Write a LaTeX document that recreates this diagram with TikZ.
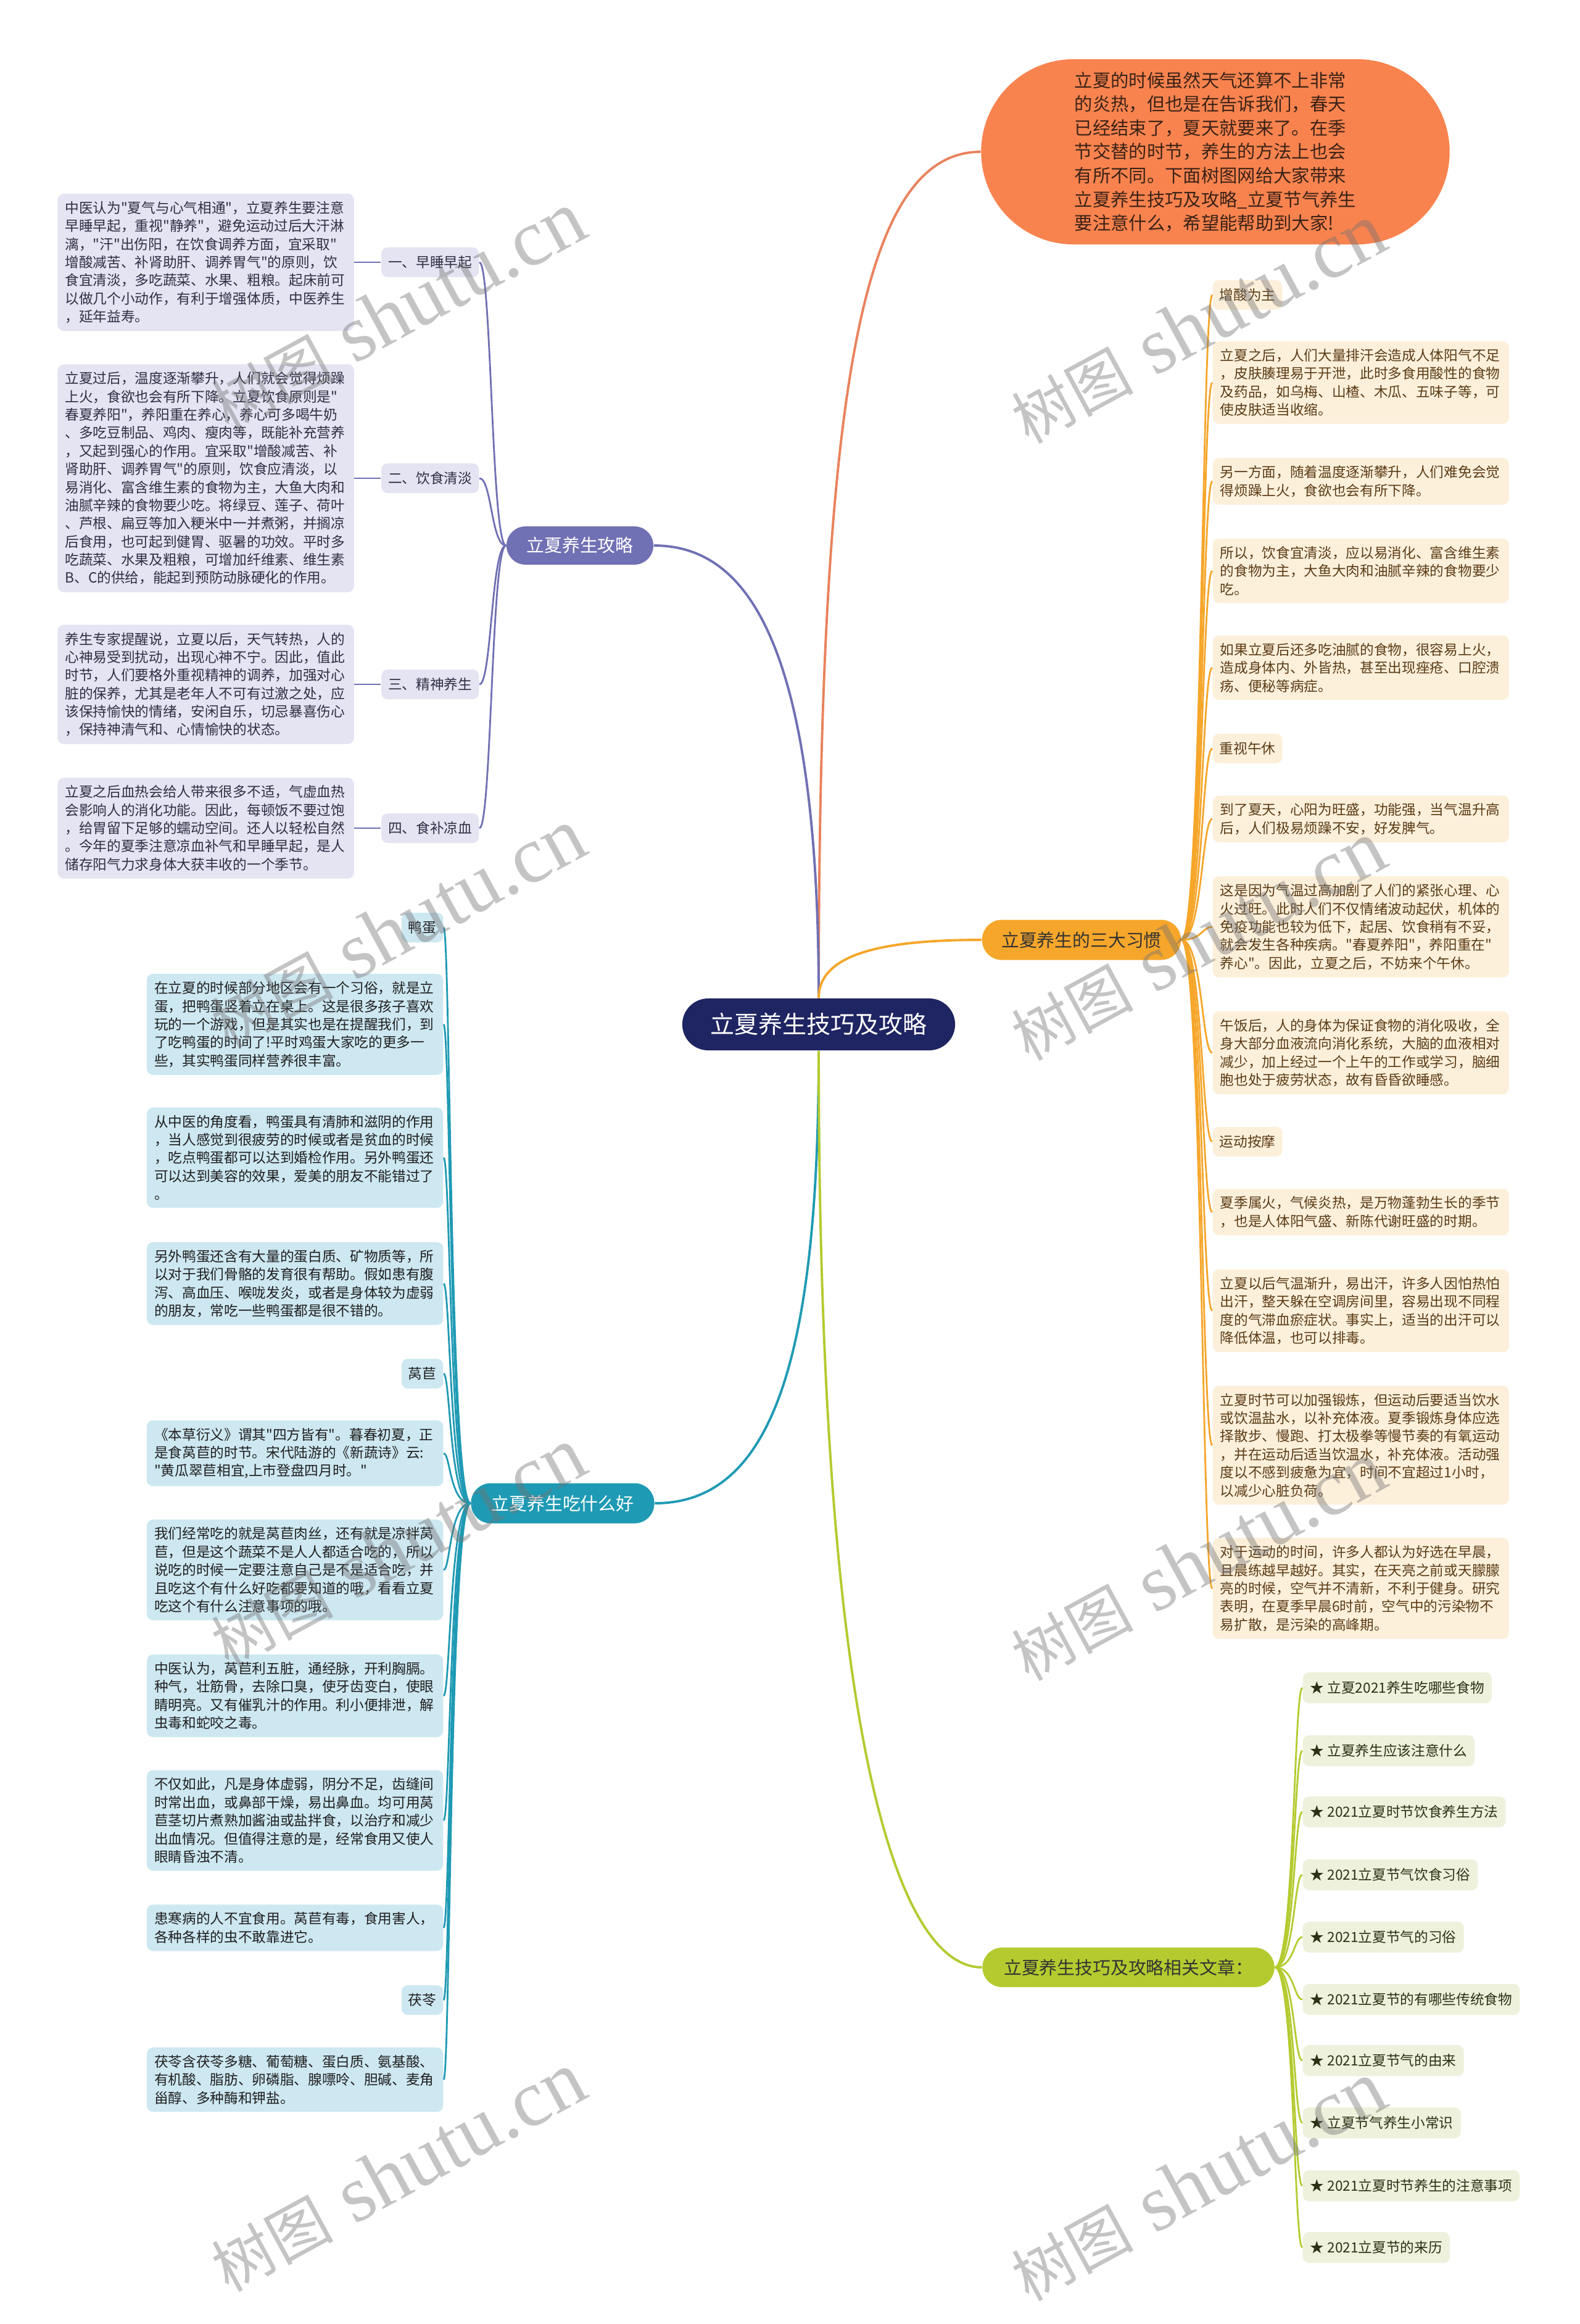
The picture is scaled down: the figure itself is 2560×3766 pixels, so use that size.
\documentclass[tikz,border=0pt]{standalone}
\usepackage{fontspec}
\setmainfont{Noto Sans CJK SC}
\newfontfamily\cjkplain{Noto Sans CJK SC}
\newfontfamily\wmlatin{Liberation Serif}
\usepackage{xcolor}
\definecolor{SHnavy}{HTML}{1F2462}
\definecolor{SHcoral}{HTML}{F8834F}
\definecolor{SHcoralline}{HTML}{E9825C}
\definecolor{SHintrotext}{HTML}{3B2216}
\definecolor{SHpurple}{HTML}{7070B4}
\definecolor{SHpurplelight}{HTML}{E4E4F2}
\definecolor{SHpurpletext}{HTML}{2F2F45}
\definecolor{SHteal}{HTML}{1F9AB4}
\definecolor{SHteallight}{HTML}{CDE8F1}
\definecolor{SHtealtext}{HTML}{1F1F1F}
\definecolor{SHorange}{HTML}{F6A62A}
\definecolor{SHorangelight}{HTML}{FDF0DB}
\definecolor{SHorangetext}{HTML}{5A3C17}
\definecolor{SHgreen}{HTML}{B5CA2F}
\definecolor{SHgreenlight}{HTML}{EEF1DC}
\definecolor{SHgreentext}{HTML}{2C3113}
\usepackage{tikz}
\usetikzlibrary{positioning}
\newcommand\leaffont{\cjkplain\fontsize{6.45}{8.35}\selectfont}

\begin{document}
\begin{tikzpicture}[x=0.01cm, y=-0.01cm,
  pill/.style={rectangle, inner sep=0pt, minimum height=0.65cm,
    rounded corners=0.32cm, font=\cjkplain\fontsize{8.2}{10}\selectfont},
  rootnode/.style={pill, fill=SHnavy, text=white, minimum width=4.42cm,
    minimum height=0.84cm, rounded corners=0.42cm,
    font=\cjkplain\fontsize{11.1}{13}\selectfont},
  intronode/.style={rectangle, fill=SHcoral, text=SHintrotext,
    minimum width=7.59cm, minimum height=3cm, rounded corners=1.5cm,
    text width=4.56cm, align=left,
    font=\cjkplain\fontsize{8.34}{10.98}\selectfont},
  stratpill/.style={pill, fill=SHpurple, text=white, minimum width=2.38cm,
    minimum height=0.62cm, rounded corners=0.31cm},
  habitpill/.style={pill, fill=SHorange, text=black!80, minimum width=3.22cm},
  eatpill/.style={pill, fill=SHteal, text=white, minimum width=2.97cm},
  relpill/.style={pill, fill=SHgreen, text=black!80, minimum width=4.73cm,
    minimum height=0.64cm},
  leaf/.style={rectangle, rounded corners=0.1cm, align=left,
    text width=4.56cm, inner xsep=0.12cm, inner ysep=3.5pt, font=\leaffont},
  tag/.style={rectangle, rounded corners=0.1cm, inner xsep=0.11cm,
    inner ysep=0pt, minimum height=0.48cm, font=\leaffont},
  stratleaf/.style={leaf, fill=SHpurplelight, text=SHpurpletext},
  strattag/.style={tag, fill=SHpurplelight, text=SHpurpletext, anchor=east},
  habitleaf/.style={leaf, fill=SHorangelight, text=SHorangetext, anchor=west},
  habittag/.style={tag, fill=SHorangelight, text=SHorangetext, anchor=west},
  eatleaf/.style={leaf, fill=SHteallight, text=SHtealtext, anchor=east},
  eattag/.style={tag, fill=SHteallight, text=SHtealtext, anchor=east},
  relitem/.style={tag, fill=SHgreenlight, text=SHgreentext, anchor=west,
    minimum height=0.5cm, inner xsep=0.12cm},
  mainedge/.style={line width=1.1pt},
  subedge/.style={line width=0.8pt},
  wmark/.style={rotate=28.5, text=black!55, text opacity=0.42, inner sep=0pt,
    font=\cjkplain\fontsize{28}{28}\selectfont}
]
\useasboundingbox (0,0) rectangle (2560,3766);
\fill[white] (0,0) rectangle (2560,3766);

% ── Root and introduction ─────────────────────────────────────
\node[rootnode] (root) at (1327,1660) {立夏养生技巧及攻略};
\node[intronode] (intro) at (1970,246) {立夏的时候虽然天气还算不上非常\\
  的炎热，但也是在告诉我们，春天\\
  已经结束了，夏天就要来了。在季\\
  节交替的时节，养生的方法上也会\\
  有所不同。下面树图网给大家带来\\
  立夏养生技巧及攻略\_立夏节气养生\\
  要注意什么，希望能帮助到大家!};

% ── Main branches ─────────────────────────────────────────────
\node[stratpill] (strat) at (940,884)   {立夏养生攻略};
\node[habitpill] (habit) at (1753,1523) {立夏养生的三大习惯};
\node[eatpill]   (eat)   at (912,2436)  {立夏养生吃什么好};
\node[relpill]   (rel)   at (1829,3188) {立夏养生技巧及攻略相关文章：};

% ── Branch: 立夏养生攻略 (left, top) ──────────────────────────
\node[strattag] (s1) at (777,425)  {一、早睡早起};
\node[strattag] (s2) at (777,775)  {二、饮食清淡};
\node[strattag] (s3) at (777,1109) {三、精神养生};
\node[strattag] (s4) at (777,1342) {四、食补凉血};

\node[stratleaf, left=0.43cm of s1] (sb1) {中医认为"夏气与心气相通"，立夏养生要注意\\
  早睡早起，重视"静养"，避免运动过后大汗淋\\
  漓，"汗"出伤阳，在饮食调养方面，宜采取"\\
  增酸减苦、补肾助肝、调养胃气"的原则，饮\\
  食宜清淡，多吃蔬菜、水果、粗粮。起床前可\\
  以做几个小动作，有利于增强体质，中医养生\\
  ，延年益寿。};
\node[stratleaf, left=0.43cm of s2] (sb2) {立夏过后，温度逐渐攀升，人们就会觉得烦躁\\
  上火，食欲也会有所下降。立夏饮食原则是"\\
  春夏养阳"，养阳重在养心，养心可多喝牛奶\\
  、多吃豆制品、鸡肉、瘦肉等，既能补充营养\\
  ，又起到强心的作用。宜采取"增酸减苦、补\\
  肾助肝、调养胃气"的原则，饮食应清淡，以\\
  易消化、富含维生素的食物为主，大鱼大肉和\\
  油腻辛辣的食物要少吃。将绿豆、莲子、荷叶\\
  、芦根、扁豆等加入粳米中一并煮粥，并搁凉\\
  后食用，也可起到健胃、驱暑的功效。平时多\\
  吃蔬菜、水果及粗粮，可增加纤维素、维生素\\
  B、C的供给，能起到预防动脉硬化的作用。};
\node[stratleaf, left=0.43cm of s3] (sb3) {养生专家提醒说，立夏以后，天气转热，人的\\
  心神易受到扰动，出现心神不宁。因此，值此\\
  时节，人们要格外重视精神的调养，加强对心\\
  脏的保养，尤其是老年人不可有过激之处，应\\
  该保持愉快的情绪，安闲自乐，切忌暴喜伤心\\
  ，保持神清气和、心情愉快的状态。};
\node[stratleaf, left=0.43cm of s4] (sb4) {立夏之后血热会给人带来很多不适，气虚血热\\
  会影响人的消化功能。因此，每顿饭不要过饱\\
  ，给胃留下足够的蠕动空间。还人以轻松自然\\
  。今年的夏季注意凉血补气和早睡早起，是人\\
  储存阳气力求身体大获丰收的一个季节。};

% ── Branch: 立夏养生的三大习惯 (right) ────────────────────────
\node[habittag]  (ha1) at (1965,478)  {增酸为主};
\node[habitleaf] (ha2) at (1965,620)  {立夏之后，人们大量排汗会造成人体阳气不足\\
  ，皮肤腠理易于开泄，此时多食用酸性的食物\\
  及药品，如乌梅、山楂、木瓜、五味子等，可\\
  使皮肤适当收缩。};
\node[habitleaf] (ha3) at (1965,780)  {另一方面，随着温度逐渐攀升，人们难免会觉\\
  得烦躁上火，食欲也会有所下降。};
\node[habitleaf] (ha4) at (1965,925)  {所以，饮食宜清淡，应以易消化、富含维生素\\
  的食物为主，大鱼大肉和油腻辛辣的食物要少\\
  吃。};
\node[habitleaf] (ha5) at (1965,1082) {如果立夏后还多吃油腻的食物，很容易上火，\\
  造成身体内、外皆热，甚至出现痤疮、口腔溃\\
  疡、便秘等病症。};
\node[habittag]  (hb1) at (1965,1213) {重视午休};
\node[habitleaf] (hb2) at (1965,1327) {到了夏天，心阳为旺盛，功能强，当气温升高\\
  后，人们极易烦躁不安，好发脾气。};
\node[habitleaf] (hb3) at (1965,1502) {这是因为气温过高加剧了人们的紧张心理、心\\
  火过旺。此时人们不仅情绪波动起伏，机体的\\
  免疫功能也较为低下，起居、饮食稍有不妥，\\
  就会发生各种疾病。"春夏养阳"，养阳重在"\\
  养心"。因此，立夏之后，不妨来个午休。};
\node[habitleaf] (hb4) at (1965,1706) {午饭后，人的身体为保证食物的消化吸收，全\\
  身大部分血液流向消化系统，大脑的血液相对\\
  减少，加上经过一个上午的工作或学习，脑细\\
  胞也处于疲劳状态，故有昏昏欲睡感。};
\node[habittag]  (hc1) at (1965,1850) {运动按摩};
\node[habitleaf] (hc2) at (1965,1964) {夏季属火，气候炎热，是万物蓬勃生长的季节\\
  ，也是人体阳气盛、新陈代谢旺盛的时期。};
\node[habitleaf] (hc3) at (1965,2124) {立夏以后气温渐升，易出汗，许多人因怕热怕\\
  出汗，整天躲在空调房间里，容易出现不同程\\
  度的气滞血瘀症状。事实上，适当的出汗可以\\
  降低体温，也可以排毒。};
\node[habitleaf] (hc4) at (1965,2342) {立夏时节可以加强锻炼，但运动后要适当饮水\\
  或饮温盐水，以补充体液。夏季锻炼身体应选\\
  择散步、慢跑、打太极拳等慢节奏的有氧运动\\
  ，并在运动后适当饮温水，补充体液。活动强\\
  度以不感到疲惫为宜，时间不宜超过1小时，\\
  以减少心脏负荷。};
\node[habitleaf] (hc5) at (1965,2574) {对于运动的时间，许多人都认为好选在早晨，\\
  且晨练越早越好。其实，在天亮之前或天朦朦\\
  亮的时候，空气并不清新，不利于健身。研究\\
  表明，在夏季早晨6时前，空气中的污染物不\\
  易扩散，是污染的高峰期。};

% ── Branch: 立夏养生吃什么好 (left, bottom) ──────────────────
\node[eattag]  (ea1) at (719,1503) {鸭蛋};
\node[eatleaf] (ea2) at (719,1660) {在立夏的时候部分地区会有一个习俗，就是立\\
  蛋，把鸭蛋竖着立在桌上。这是很多孩子喜欢\\
  玩的一个游戏，但是其实也是在提醒我们，到\\
  了吃鸭蛋的时间了!平时鸡蛋大家吃的更多一\\
  些，其实鸭蛋同样营养很丰富。};
\node[eatleaf] (ea3) at (719,1876) {从中医的角度看，鸭蛋具有清肺和滋阴的作用\\
  ，当人感觉到很疲劳的时候或者是贫血的时候\\
  ，吃点鸭蛋都可以达到婚检作用。另外鸭蛋还\\
  可以达到美容的效果，爱美的朋友不能错过了\\
  。};
\node[eatleaf] (ea4) at (719,2080) {另外鸭蛋还含有大量的蛋白质、矿物质等，所\\
  以对于我们骨骼的发育很有帮助。假如患有腹\\
  泻、高血压、喉咙发炎，或者是身体较为虚弱\\
  的朋友，常吃一些鸭蛋都是很不错的。};
\node[eattag]  (eb1) at (719,2226) {莴苣};
\node[eatleaf] (eb2) at (719,2355) {《本草衍义》谓其"四方皆有"。暮春初夏，正\\
  是食莴苣的时节。宋代陆游的《新蔬诗》云:\\
  "黄瓜翠苣相宜,上市登盘四月时。"};
\node[eatleaf] (eb3) at (719,2544) {我们经常吃的就是莴苣肉丝，还有就是凉拌莴\\
  苣，但是这个蔬菜不是人人都适合吃的，所以\\
  说吃的时候一定要注意自己是不是适合吃，并\\
  且吃这个有什么好吃都要知道的哦，看看立夏\\
  吃这个有什么注意事项的哦。};
\node[eatleaf] (eb4) at (719,2748) {中医认为，莴苣利五脏，通经脉，开利胸膈。\\
  种气，壮筋骨，去除口臭，使牙齿变白，使眼\\
  睛明亮。又有催乳汁的作用。利小便排泄，解\\
  虫毒和蛇咬之毒。};
\node[eatleaf] (eb5) at (719,2950) {不仅如此，凡是身体虚弱，阴分不足，齿缝间\\
  时常出血，或鼻部干燥，易出鼻血。均可用莴\\
  苣茎切片煮熟加酱油或盐拌食，以治疗和减少\\
  出血情况。但值得注意的是，经常食用又使人\\
  眼睛昏浊不清。};
\node[eatleaf] (eb6) at (719,3124) {患寒病的人不宜食用。莴苣有毒，食用害人，\\
  各种各样的虫不敢靠进它。};
\node[eattag]  (ec1) at (719,3241) {茯苓};
\node[eatleaf] (ec2) at (719,3370) {茯苓含茯苓多糖、葡萄糖、蛋白质、氨基酸、\\
  有机酸、脂肪、卵磷脂、腺嘌呤、胆碱、麦角\\
  甾醇、多种酶和钾盐。};

% ── Branch: 相关文章 (right, bottom) ─────────────────────────
\node[relitem] (r1)  at (2111,2735) {★ 立夏2021养生吃哪些食物};
\node[relitem] (r2)  at (2111,2837) {★ 立夏养生应该注意什么};
\node[relitem] (r3)  at (2111,2936) {★ 2021立夏时节饮食养生方法};
\node[relitem] (r4)  at (2111,3038) {★ 2021立夏节气饮食习俗};
\node[relitem] (r5)  at (2111,3139) {★ 2021立夏节气的习俗};
\node[relitem] (r6)  at (2111,3240) {★ 2021立夏节的有哪些传统食物};
\node[relitem] (r7)  at (2111,3339) {★ 2021立夏节气的由来};
\node[relitem] (r8)  at (2111,3440) {★ 立夏节气养生小常识};
\node[relitem] (r9)  at (2111,3542) {★ 2021立夏时节养生的注意事项};
\node[relitem] (r10) at (2111,3642) {★ 2021立夏节的来历};

% ── Edges from the root ───────────────────────────────────────
\draw[mainedge, SHcoralline] (root.north) .. controls +(0,-1000) and +(-190,0) .. (intro.west);
\draw[mainedge, SHpurple] (root.north) .. controls +(0,-600) and +(140,0) .. (strat.east);
\draw[mainedge, SHorange] (root.north) .. controls +(0,-75) and +(-150,0) .. (habit.west);
\draw[mainedge, SHteal] (root.south) .. controls +(0,500) and +(190,0) .. (eat.east);
\draw[mainedge, SHgreen] (root.south) .. controls +(0,1100) and +(-140,0) .. (rel.west);

% ── Edges: 立夏养生攻略 ───────────────────────────────────────
\foreach \n in {s1, s2, s3, s4}{
  \draw[subedge, SHpurple] (strat.west) .. controls +(-24,0) and +(20,0) .. (\n.east);
}
\foreach \a/\b in {sb1/s1, sb2/s2, sb3/s3, sb4/s4}{
  \draw[subedge, SHpurple] (\a.east) -- (\b.west);
}

% ── Edges: 三大习惯 ───────────────────────────────────────────
\foreach \n in {ha1, ha2, ha3, ha4, ha5, hb1, hb2, hb3, hb4, hc1, hc2, hc3, hc4, hc5}{
  \draw[subedge, SHorange] (habit.east) .. controls +(34,0) and +(-17,0) .. (\n.west);
}

% ── Edges: 吃什么好 ───────────────────────────────────────────
\foreach \n in {ea1, ea2, ea3, ea4, eb1, eb2, eb3, eb4, eb5, eb6, ec1, ec2}{
  \draw[subedge, SHteal] (eat.west) .. controls +(-34,0) and +(11,0) .. (\n.east);
}

% ── Edges: 相关文章 ───────────────────────────────────────────
\foreach \n in {r1, r2, r3, r4, r5, r6, r7, r8, r9, r10}{
  \draw[subedge, SHgreen] (rel.east) .. controls +(32,0) and +(-14,0) .. (\n.west);
}

% ── Watermarks ────────────────────────────────────────────────
\foreach \wx/\wy [count=\i] in {645/505, 1942/525, 645/1505, 1942/1525,
                                645/2508, 1942/2530, 645/3520, 1942/3535}{
  \node[wmark] (wm\i) at (\wx,\wy)
    {树图\hspace{0.35em}{\wmlatin\fontsize{37}{37}\selectfont shutu.cn}};
}
\end{tikzpicture}
\end{document}
